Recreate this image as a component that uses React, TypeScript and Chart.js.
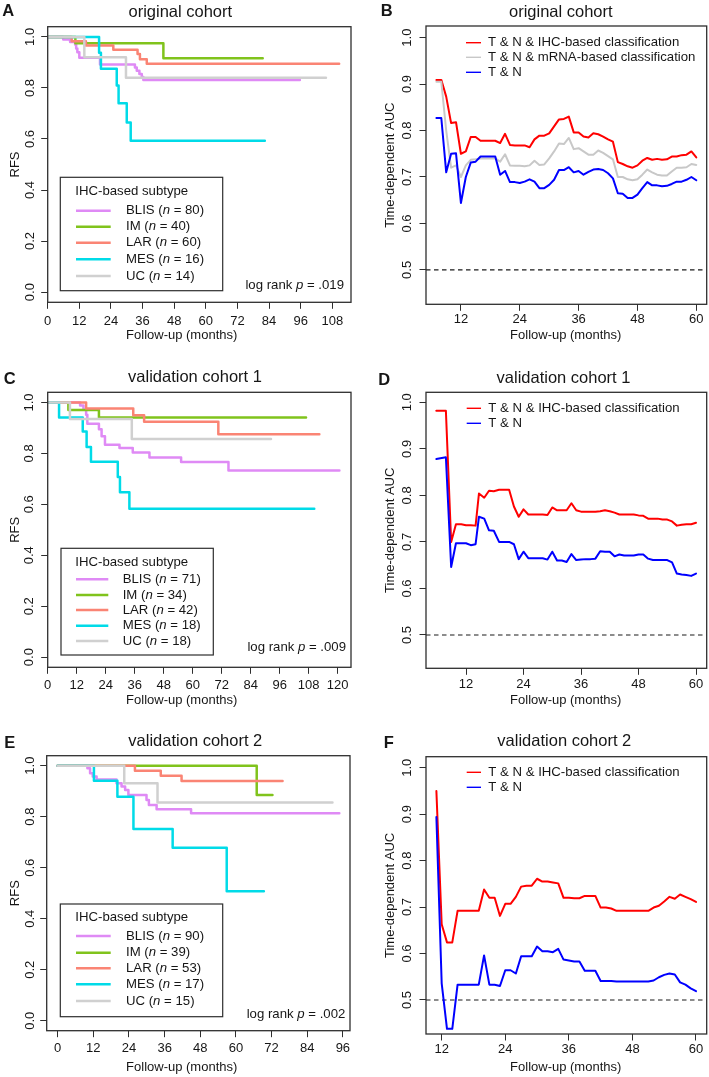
import React, { useEffect, useRef } from "react";
import { Chart, registerables } from "chart.js";
Chart.register(...registerables);

const FONT = '"Liberation Sans", Arimo, Arial, Helvetica, sans-serif';
const TXT = "#161616";
const AX = "#2e2e2e";

// ---------- colours ----------
const COL_BLIS = "#df8af5";
const COL_IM = "#80c31c";
const COL_LAR = "#fa8474";
const COL_MES = "#00dbe8";
const COL_UC = "#d0d0d0";
const KM_COLORS = [COL_BLIS, COL_IM, COL_LAR, COL_MES, COL_UC];
const COL_IHC = "#ff0000";
const COL_MRNA = "#c8c8c8";
const COL_TN = "#0000ff";

// ---------- labels ----------
const SUBTYPES = ["BLIS", "IM", "LAR", "MES", "UC"];
const A_N = [80, 40, 60, 16, 14];
const C_N = [71, 34, 42, 18, 18];
const E_N = [90, 39, 53, 17, 15];
const A_P = ".019";
const C_P = ".009";
const E_P = ".002";
const LBL_IHC = "T & N & IHC-based classification";
const LBL_MRNA = "T & N & mRNA-based classification";
const LBL_TN = "T & N";

// ---------- ticks ----------
const A_XTICKS = [0, 12, 24, 36, 48, 60, 72, 84, 96, 108];
const C_XTICKS = [0, 12, 24, 36, 48, 60, 72, 84, 96, 108, 120];
const E_XTICKS = [0, 12, 24, 36, 48, 60, 72, 84, 96];
const AUC_XTICKS = [12, 24, 36, 48, 60];
const KM_YTICKS = [0, 0.2, 0.4, 0.6, 0.8, 1.0];
const AUC_YTICKS = [0.5, 0.6, 0.7, 0.8, 0.9, 1.0];
const REF_AUC = 0.5;

// ---------- Panel A: original cohort KM ----------
const A_BLIS_T = [0, 5.9, 8.5, 10.4, 10.8, 11.25, 12, 19.85, 33.1, 33.8, 34.8, 35.7, 36.3, 95.7];
const A_BLIS_S = [1, 0.99, 0.98, 0.97, 0.955, 0.94, 0.918, 0.892, 0.88, 0.867, 0.855, 0.843, 0.831, 0.831];
const A_IM_T = [0, 10.5, 43.9, 81.6];
const A_IM_S = [1, 0.975, 0.916, 0.916];
const A_LAR_T = [0, 9.1, 14.5, 24.9, 34.1, 35, 37.6, 110.6];
const A_LAR_S = [1, 0.983, 0.966, 0.95, 0.933, 0.912, 0.895, 0.895];
const A_MES_T = [0, 19.5, 20.2, 26.2, 26.9, 30, 31.5, 82.4];
const A_MES_S = [1, 0.938, 0.875, 0.81, 0.74, 0.665, 0.593, 0.593];
const A_UC_T = [0, 13.9, 29.7, 105.6];
const A_UC_S = [1, 0.92, 0.84, 0.84];

// ---------- Panel C: validation cohort 1 KM ----------
const C_BLIS_T = [0, 13.4, 14.8, 15.9, 16.4, 21.2, 22.3, 23.7, 29.7, 35.2, 42.1, 55.2, 74.8, 120.7];
const C_BLIS_S = [1, 0.988, 0.971, 0.952, 0.916, 0.895, 0.867, 0.834, 0.821, 0.804, 0.784, 0.766, 0.733, 0.733];
const C_IM_T = [0, 8.55, 21.2, 106.9];
const C_IM_S = [1, 0.97, 0.941, 0.941];
const C_LAR_T = [0, 15.9, 35.4, 39.9, 70.6, 112.4];
const C_LAR_S = [1, 0.976, 0.95, 0.924, 0.875, 0.875];
const C_MES_T = [0, 4.7, 14.5, 16.1, 17.9, 29, 29.9, 33.8, 110.3];
const C_MES_S = [1, 0.941, 0.886, 0.825, 0.767, 0.707, 0.647, 0.583, 0.583];
const C_UC_T = [0, 9.2, 34.8, 92.4];
const C_UC_S = [1, 0.935, 0.857, 0.857];

// ---------- Panel E: validation cohort 2 KM ----------
const E_BLIS_T = [0, 10, 10.9, 11.8, 13.1, 19.8, 21.5, 22.7, 23.8, 29.9, 30.7, 33.3, 44.9, 94.8];
const E_BLIS_S = [1, 0.99, 0.97, 0.957, 0.946, 0.931, 0.918, 0.905, 0.885, 0.865, 0.846, 0.829, 0.813, 0.813];
const E_IM_T = [0, 67, 72.3];
const E_IM_S = [1, 0.885, 0.885];
const E_LAR_T = [0, 26, 34.7, 41.7, 75.7];
const E_LAR_S = [1, 0.98, 0.96, 0.94, 0.94];
const E_MES_T = [0, 12.2, 20.1, 25.5, 38.7, 56.9, 69.4];
const E_MES_S = [1, 0.941, 0.878, 0.752, 0.678, 0.508, 0.508];
const E_UC_T = [0, 22.4, 33.6, 92.5];
const E_UC_S = [1, 0.931, 0.856, 0.856];

// ---------- Panel B: original cohort AUC ----------
const B_MONTHS = [7, 8, 9, 10, 11, 12, 13, 14, 15, 16, 17, 18, 19, 20, 21, 22, 23, 24, 25, 26, 27, 28, 29, 30, 31, 32, 33, 34, 35, 36, 37, 38, 39, 40, 41, 42, 43, 44, 45, 46, 47, 48, 49, 50, 51, 52, 53, 54, 55, 56, 57, 58, 59, 60];
const B_IHC = [0.909, 0.909, 0.873, 0.816, 0.818, 0.75, 0.755, 0.786, 0.786, 0.778, 0.778, 0.778, 0.778, 0.773, 0.793, 0.769, 0.768, 0.768, 0.768, 0.764, 0.781, 0.789, 0.789, 0.794, 0.809, 0.824, 0.825, 0.83, 0.796, 0.796, 0.787, 0.785, 0.794, 0.792, 0.787, 0.781, 0.776, 0.732, 0.728, 0.723, 0.72, 0.725, 0.735, 0.741, 0.737, 0.739, 0.737, 0.738, 0.744, 0.744, 0.747, 0.748, 0.755, 0.742];
const B_MRNA = [0.905, 0.905, 0.8, 0.72, 0.725, 0.7, 0.725, 0.737, 0.738, 0.74, 0.74, 0.74, 0.74, 0.733, 0.749, 0.725, 0.724, 0.724, 0.723, 0.725, 0.735, 0.726, 0.727, 0.74, 0.755, 0.772, 0.771, 0.784, 0.76, 0.762, 0.755, 0.748, 0.748, 0.757, 0.752, 0.745, 0.738, 0.7, 0.7, 0.695, 0.693, 0.695, 0.705, 0.716, 0.71, 0.705, 0.703, 0.703, 0.712, 0.72, 0.72, 0.721, 0.728, 0.726];
const B_TN = [0.827, 0.827, 0.71, 0.75, 0.751, 0.644, 0.7, 0.731, 0.733, 0.744, 0.744, 0.744, 0.744, 0.705, 0.713, 0.689, 0.689, 0.687, 0.69, 0.695, 0.69, 0.676, 0.676, 0.683, 0.694, 0.715, 0.715, 0.721, 0.71, 0.713, 0.705, 0.711, 0.716, 0.717, 0.715, 0.708, 0.697, 0.665, 0.664, 0.655, 0.655, 0.662, 0.676, 0.689, 0.682, 0.682, 0.68, 0.681, 0.685, 0.69, 0.69, 0.694, 0.7, 0.693];

// ---------- Panel D: validation cohort 1 AUC ----------
const D_MONTHS = [5.8, 7.8, 8.9, 9.9, 11, 12, 13, 14, 14.7, 15.8, 16.8, 17.8, 18.9, 19.9, 21, 22, 23, 24, 25, 26, 27, 28, 29, 30, 31, 32, 33, 34, 35, 36, 37, 38, 39, 40, 41, 42, 43, 44, 45, 46, 47, 48, 49, 50, 51, 52, 53, 54, 55, 56, 57, 58, 59, 60];
const D_IHC = [0.982, 0.982, 0.7, 0.738, 0.738, 0.736, 0.736, 0.735, 0.804, 0.795, 0.81, 0.809, 0.812, 0.812, 0.812, 0.776, 0.754, 0.77, 0.759, 0.759, 0.759, 0.759, 0.758, 0.774, 0.768, 0.768, 0.768, 0.783, 0.768, 0.765, 0.765, 0.765, 0.765, 0.766, 0.768, 0.766, 0.763, 0.759, 0.759, 0.759, 0.759, 0.757, 0.756, 0.75, 0.75, 0.75, 0.748, 0.748, 0.744, 0.735, 0.737, 0.738, 0.738, 0.741];
const D_TN = [0.878, 0.882, 0.646, 0.697, 0.697, 0.697, 0.693, 0.695, 0.754, 0.75, 0.725, 0.724, 0.7, 0.7, 0.7, 0.695, 0.663, 0.679, 0.665, 0.665, 0.665, 0.665, 0.662, 0.679, 0.66, 0.66, 0.657, 0.674, 0.661, 0.662, 0.663, 0.663, 0.664, 0.68, 0.679, 0.679, 0.669, 0.673, 0.671, 0.671, 0.671, 0.673, 0.673, 0.664, 0.661, 0.661, 0.661, 0.661, 0.656, 0.632, 0.63, 0.629, 0.627, 0.632];

// ---------- Panel F: validation cohort 2 AUC ----------
const F_MONTHS = [11, 12, 13, 14, 15, 16, 17, 18, 19, 20, 21, 22, 23, 24, 25, 26, 27, 28, 29, 30, 31, 32, 33, 34, 35, 36, 37, 38, 39, 40, 41, 42, 43, 44, 45, 46, 47, 48, 49, 50, 51, 52, 53, 54, 55, 56, 57, 58, 59, 60];
const F_IHC = [0.95, 0.663, 0.624, 0.624, 0.692, 0.692, 0.692, 0.692, 0.692, 0.738, 0.72, 0.72, 0.681, 0.707, 0.707, 0.722, 0.744, 0.746, 0.746, 0.761, 0.755, 0.755, 0.753, 0.751, 0.72, 0.72, 0.719, 0.719, 0.724, 0.724, 0.724, 0.699, 0.699, 0.697, 0.692, 0.692, 0.692, 0.692, 0.692, 0.692, 0.692, 0.699, 0.703, 0.712, 0.722, 0.718, 0.727, 0.722, 0.717, 0.711];
const F_TN = [0.894, 0.536, 0.438, 0.438, 0.533, 0.533, 0.533, 0.533, 0.533, 0.596, 0.533, 0.533, 0.53, 0.564, 0.564, 0.557, 0.594, 0.594, 0.594, 0.615, 0.605, 0.605, 0.603, 0.61, 0.587, 0.585, 0.583, 0.583, 0.563, 0.563, 0.563, 0.541, 0.541, 0.541, 0.54, 0.54, 0.54, 0.54, 0.54, 0.54, 0.54, 0.542, 0.549, 0.554, 0.557, 0.555, 0.538, 0.533, 0.525, 0.519];

// ---------- types ----------
type Series = { t: number[]; v: number[]; color: string; width: number; stepped?: boolean; order: number; dash?: number[] };
type KMLegend = { box: number[]; titleX: number; titleY: number; rows: number[]; lineX: number[]; textX: number; n: number[]; p: string; pX: number; pY: number };
type AUCLegend = { rows: number[]; lineX: number[]; textX: number; labels: string[]; colors: string[] };
type PanelSpec = {
  canvas: number[]; box: number[]; xRange: number[]; yRange: number[];
  xTicks: number[]; yTicks: number[]; series: Series[];
  letter: string; letterPos: number[]; title: string; titlePos: number[];
  yTitle: string; yTitlePos: number[]; xTitle: string; xTitlePos: number[];
  yTickX: number; xTickY: number; km?: KMLegend; auc?: AUCLegend;
};

function kmSeries(ts: number[][], ss: number[][]): Series[] {
  return ts.map((t, i) => ({ t, v: ss[i], color: KM_COLORS[i], width: 2.5, stepped: true, order: 4 - i }));
}
function refSeries(xr: number[]): Series {
  return { t: [xr[0], xr[1]], v: [REF_AUC, REF_AUC], color: "#1a1a1a", width: 1.2, order: 9, dash: [4.5, 3.5] };
}

const A_X = [0, 115.1];
const C_X = [0, 125.5];
const E_X = [-3.7, 98.4];
const B_X = [4.88, 62.12];
const D_X = [3.65, 62.23];
const F_X = [9.04, 62.02];

const PANELS: PanelSpec[] = [
  {
    canvas: [0, 0, 355, 357], box: [47.7, 26.7, 351, 302.3], xRange: A_X, yRange: [-0.04, 1.04],
    xTicks: A_XTICKS, yTicks: KM_YTICKS,
    series: kmSeries([A_BLIS_T, A_IM_T, A_LAR_T, A_MES_T, A_UC_T], [A_BLIS_S, A_IM_S, A_LAR_S, A_MES_S, A_UC_S]),
    letter: "A", letterPos: [8.3, 11], title: "original cohort", titlePos: [180.3, 12.3],
    yTitle: "RFS", yTitlePos: [15, 164.5], xTitle: "Follow-up (months)", xTitlePos: [181.7, 335.7],
    yTickX: 30.5, xTickY: 321,
    km: { box: [60.3, 177.3, 222.7, 290.7], titleX: 75.3, titleY: 191.7, rows: [210.7, 226.7, 242.7, 259.3, 276], lineX: [76, 110.7], textX: 126, n: A_N, p: A_P, pX: 344, pY: 285 },
  },
  {
    canvas: [355, 0, 354, 357], box: [426, 26, 706.7, 304.3], xRange: B_X, yRange: [0.426, 1.025],
    xTicks: AUC_XTICKS, yTicks: AUC_YTICKS,
    series: [
      refSeries(B_X),
      { t: B_MONTHS, v: B_IHC, color: COL_IHC, width: 2, order: 2 },
      { t: B_MONTHS, v: B_MRNA, color: COL_MRNA, width: 2, order: 1 },
      { t: B_MONTHS, v: B_TN, color: COL_TN, width: 2, order: 0 },
    ],
    letter: "B", letterPos: [386.7, 11], title: "original cohort", titlePos: [560.8, 12.3],
    yTitle: "Time-dependent AUC", yTitlePos: [390, 165.2], xTitle: "Follow-up (months)", xTitlePos: [565.7, 335.7],
    yTickX: 407.5, xTickY: 319.3,
    auc: { rows: [42.7, 57.3, 72.3], lineX: [466, 481], textX: 488, labels: [LBL_IHC, LBL_MRNA, LBL_TN], colors: [COL_IHC, COL_MRNA, COL_TN] },
  },
  {
    canvas: [0, 357, 355, 358], box: [47.7, 392.3, 351, 667.3], xRange: C_X, yRange: [-0.04, 1.04],
    xTicks: C_XTICKS, yTicks: KM_YTICKS,
    series: kmSeries([C_BLIS_T, C_IM_T, C_LAR_T, C_MES_T, C_UC_T], [C_BLIS_S, C_IM_S, C_LAR_S, C_MES_S, C_UC_S]),
    letter: "C", letterPos: [9.7, 379], title: "validation cohort 1", titlePos: [195, 377.3],
    yTitle: "RFS", yTitlePos: [15, 529.8], xTitle: "Follow-up (months)", xTitlePos: [181.7, 700],
    yTickX: 29.7, xTickY: 685.7,
    km: { box: [61, 548.3, 213.3, 655], titleX: 75.3, titleY: 562.3, rows: [579.3, 595, 610, 625.7, 641], lineX: [76, 108.3], textX: 122.7, n: C_N, p: C_P, pX: 346, pY: 647.3 },
  },
  {
    canvas: [355, 357, 354, 358], box: [426, 392.3, 706.7, 668.3], xRange: D_X, yRange: [0.4284, 1.0215],
    xTicks: AUC_XTICKS, yTicks: AUC_YTICKS,
    series: [
      refSeries(D_X),
      { t: D_MONTHS, v: D_IHC, color: COL_IHC, width: 2, order: 1 },
      { t: D_MONTHS, v: D_TN, color: COL_TN, width: 2, order: 0 },
    ],
    letter: "D", letterPos: [384.2, 380.5], title: "validation cohort 1", titlePos: [563.5, 378.3],
    yTitle: "Time-dependent AUC", yTitlePos: [390, 530.3], xTitle: "Follow-up (months)", xTitlePos: [565.7, 700],
    yTickX: 407.5, xTickY: 684,
    auc: { rows: [408.3, 423.3], lineX: [466.7, 481], textX: 488.3, labels: [LBL_IHC, LBL_TN], colors: [COL_IHC, COL_TN] },
  },
  {
    canvas: [0, 715, 355, 362], box: [46.7, 755.7, 350, 1030.7], xRange: E_X, yRange: [-0.039, 1.039],
    xTicks: E_XTICKS, yTicks: KM_YTICKS,
    series: kmSeries([E_BLIS_T, E_IM_T, E_LAR_T, E_MES_T, E_UC_T], [E_BLIS_S, E_IM_S, E_LAR_S, E_MES_S, E_UC_S]),
    letter: "E", letterPos: [9.7, 743.3], title: "validation cohort 2", titlePos: [195.3, 741.7],
    yTitle: "RFS", yTitlePos: [15, 893.2], xTitle: "Follow-up (months)", xTitlePos: [181.7, 1067.7],
    yTickX: 30.5, xTickY: 1048.3,
    km: { box: [60.3, 904, 222.7, 1016.7], titleX: 75.3, titleY: 917.3, rows: [936, 952.7, 968.3, 984.3, 1001], lineX: [76, 110.7], textX: 126, n: E_N, p: E_P, pX: 345.3, pY: 1014.3 },
  },
  {
    canvas: [355, 715, 354, 362], box: [426, 756.7, 706.7, 1034], xRange: F_X, yRange: [0.4268, 1.0237],
    xTicks: AUC_XTICKS, yTicks: AUC_YTICKS,
    series: [
      refSeries(F_X),
      { t: F_MONTHS, v: F_IHC, color: COL_IHC, width: 2, order: 1 },
      { t: F_MONTHS, v: F_TN, color: COL_TN, width: 2, order: 0 },
    ],
    letter: "F", letterPos: [388.8, 743.3], title: "validation cohort 2", titlePos: [564.3, 741.7],
    yTitle: "Time-dependent AUC", yTitlePos: [390, 895.4], xTitle: "Follow-up (months)", xTitlePos: [565.7, 1067.7],
    yTickX: 407.8, xTickY: 1049,
    auc: { rows: [772.3, 787.3], lineX: [466.7, 481], textX: 488.3, labels: [LBL_IHC, LBL_TN], colors: [COL_IHC, COL_TN] },
  },
];

const SMALL = 13.2;

function drawRich(ctx: CanvasRenderingContext2D, parts: [string, boolean][], x: number, y: number, align: "left" | "right") {
  const fonts = parts.map(([, it]) => `${it ? "italic " : ""}${SMALL}px ${FONT}`);
  const widths = parts.map(([s], i) => { ctx.font = fonts[i]; return ctx.measureText(s).width; });
  const total = widths.reduce((a, b) => a + b, 0);
  let cx = align === "left" ? x : x - total;
  ctx.textAlign = "left";
  ctx.textBaseline = "middle";
  parts.forEach(([s], i) => { ctx.font = fonts[i]; ctx.fillText(s, cx, y); cx += widths[i]; });
}

function makePlugin(p: PanelSpec) {
  return {
    id: "panelDecor",
    afterDraw(chart: any) {
      const ctx: CanvasRenderingContext2D = chart.ctx;
      const ox = p.canvas[0], oy = p.canvas[1];
      const xs = chart.scales.x, ys = chart.scales.y;
      const ca = chart.chartArea;
      ctx.save();
      ctx.strokeStyle = AX;
      ctx.lineWidth = 1.3;
      ctx.strokeRect(ca.left, ca.top, ca.right - ca.left, ca.bottom - ca.top);

      ctx.fillStyle = TXT;
      ctx.font = `13px ${FONT}`;
      ctx.textAlign = "center";
      ctx.textBaseline = "middle";
      p.xTicks.forEach((v) => ctx.fillText(String(v), xs.getPixelForValue(v), p.xTickY - oy));
      p.yTicks.forEach((v) => {
        ctx.save();
        ctx.translate(p.yTickX - ox, ys.getPixelForValue(v));
        ctx.rotate(-Math.PI / 2);
        ctx.fillText(v.toFixed(1), 0, 0);
        ctx.restore();
      });
      ctx.fillText(p.xTitle, p.xTitlePos[0] - ox, p.xTitlePos[1] - oy);
      ctx.save();
      ctx.translate(p.yTitlePos[0] - ox, p.yTitlePos[1] - oy);
      ctx.rotate(-Math.PI / 2);
      ctx.fillText(p.yTitle, 0, 0);
      ctx.restore();

      ctx.font = `16.5px ${FONT}`;
      ctx.fillText(p.title, p.titlePos[0] - ox, p.titlePos[1] - oy);
      ctx.font = `bold 16.5px ${FONT}`;
      ctx.fillText(p.letter, p.letterPos[0] - ox, p.letterPos[1] - oy);

      if (p.km) {
        const L = p.km;
        ctx.strokeStyle = AX;
        ctx.lineWidth = 1.2;
        ctx.strokeRect(L.box[0] - ox, L.box[1] - oy, L.box[2] - L.box[0], L.box[3] - L.box[1]);
        ctx.font = `${SMALL}px ${FONT}`;
        ctx.textAlign = "left";
        ctx.fillText("IHC-based subtype", L.titleX - ox, L.titleY - oy);
        L.rows.forEach((ry, i) => {
          ctx.strokeStyle = KM_COLORS[i];
          ctx.lineWidth = 2.5;
          ctx.beginPath();
          ctx.moveTo(L.lineX[0] - ox, ry - oy);
          ctx.lineTo(L.lineX[1] - ox, ry - oy);
          ctx.stroke();
          drawRich(ctx, [[`${SUBTYPES[i]} (`, false], ["n", true], [` = ${L.n[i]})`, false]], L.textX - ox, ry - oy, "left");
        });
        drawRich(ctx, [["log rank ", false], ["p", true], [` = ${L.p}`, false]], L.pX - ox, L.pY - oy, "right");
      }
      if (p.auc) {
        const L = p.auc;
        L.rows.forEach((ry, i) => {
          ctx.strokeStyle = L.colors[i];
          ctx.lineWidth = 1.4;
          ctx.beginPath();
          ctx.moveTo(L.lineX[0] - ox, ry - oy);
          ctx.lineTo(L.lineX[1] - ox, ry - oy);
          ctx.stroke();
          ctx.font = `${SMALL}px ${FONT}`;
          ctx.textAlign = "left";
          ctx.textBaseline = "middle";
          ctx.fillText(L.labels[i], L.textX - ox, ry - oy);
        });
      }
      ctx.restore();
    },
  };
}

function Panel({ spec }: { spec: PanelSpec }) {
  const ref = useRef<HTMLCanvasElement>(null);
  useEffect(() => {
    const [cx, cy, cw, ch] = spec.canvas;
    const [bl, bt, br, bb] = spec.box;
    const gridOpts = { display: true, drawOnChartArea: false, drawTicks: true, tickLength: 6.5, color: AX, lineWidth: 1 };
    const chart = new Chart(ref.current as HTMLCanvasElement, {
      type: "scatter",
      data: {
        datasets: spec.series.map((s) => ({
          data: s.t.map((t, i) => ({ x: t, y: s.v[i] })),
          showLine: true,
          borderColor: s.color,
          backgroundColor: s.color,
          borderWidth: s.width,
          borderDash: s.dash || [],
          borderCapStyle: s.dash ? "butt" : "round",
          borderJoinStyle: "round",
          pointRadius: 0,
          pointHoverRadius: 0,
          stepped: s.stepped ? "before" : false,
          tension: 0,
          order: s.order,
        })) as any,
      },
      options: {
        responsive: false,
        animation: false,
        events: [],
        layout: { padding: { left: 0, top: bt - cy, right: cx + cw - br, bottom: 0 } },
        plugins: { legend: { display: false }, tooltip: { enabled: false }, title: { display: false } },
        scales: {
          x: {
            type: "linear",
            position: "bottom",
            min: spec.xRange[0],
            max: spec.xRange[1],
            afterBuildTicks: (sc: any) => { sc.ticks = spec.xTicks.map((v) => ({ value: v })); },
            afterFit: (sc: any) => { sc.height = cy + ch - bb; },
            grid: gridOpts,
            border: { display: false },
            ticks: { display: false },
          },
          y: {
            type: "linear",
            position: "left",
            min: spec.yRange[0],
            max: spec.yRange[1],
            afterBuildTicks: (sc: any) => { sc.ticks = spec.yTicks.map((v) => ({ value: v })); },
            afterFit: (sc: any) => { sc.width = bl - cx; },
            grid: gridOpts,
            border: { display: false },
            ticks: { display: false },
          },
        },
      } as any,
      plugins: [makePlugin(spec)],
    });
    return () => chart.destroy();
  }, [spec]);
  const [cx, cy, cw, ch] = spec.canvas;
  return (
    <canvas
      ref={ref}
      width={cw}
      height={ch}
      style={{ position: "absolute", left: cx, top: cy, width: cw, height: ch }}
    />
  );
}

export default function App() {
  return (
    <div style={{ position: "absolute", left: 0, top: 0, width: 709, height: 1077, background: "#ffffff" }}>
      {PANELS.map((p) => (
        <Panel key={p.letter} spec={p} />
      ))}
    </div>
  );
}
